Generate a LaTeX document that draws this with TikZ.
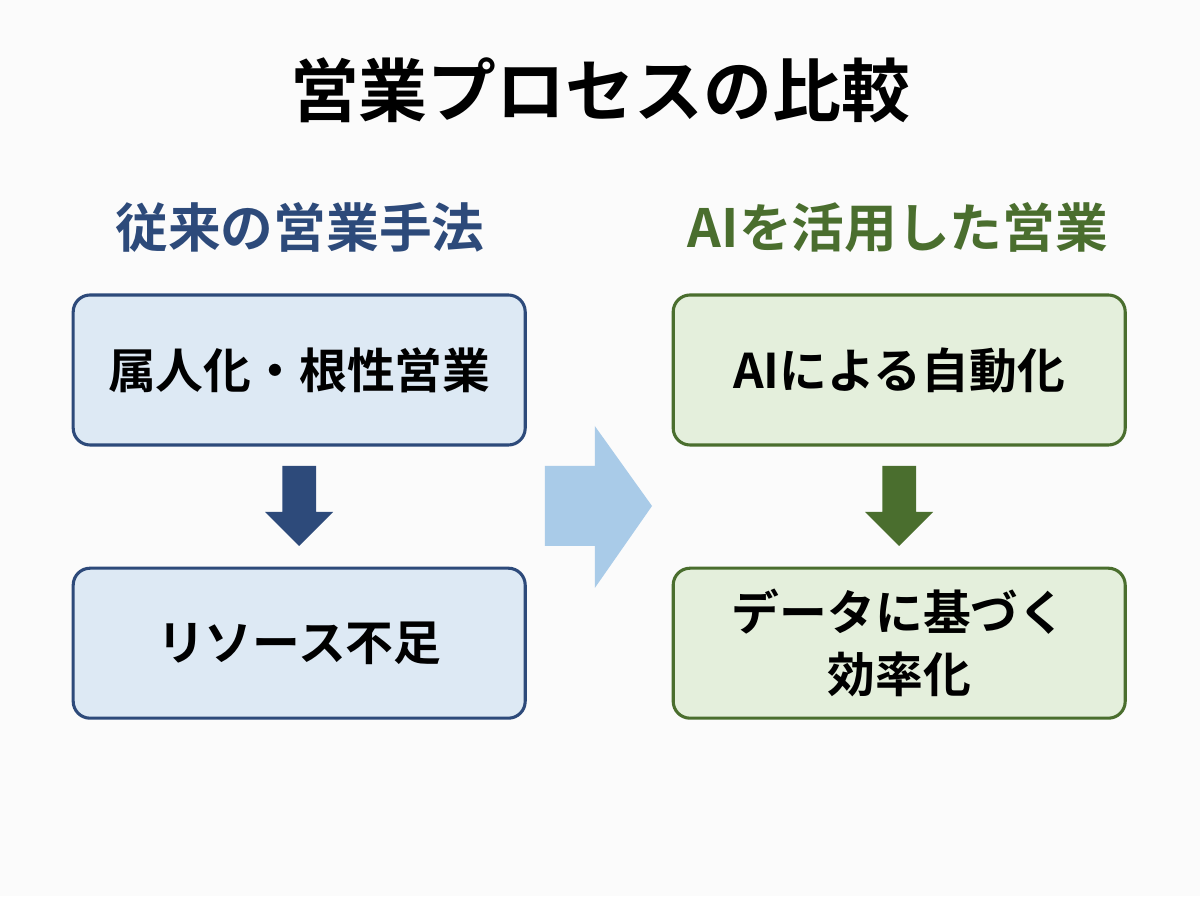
\documentclass[tikz,border=0pt]{standalone}
\usepackage{fontspec}
\newfontfamily\cjk{Noto Sans CJK JP}[BoldFont={Noto Sans CJK JP Bold}]
\usetikzlibrary{positioning}

\definecolor{oldBlue}{HTML}{2D4A7A}
\definecolor{oldFill}{HTML}{DDE9F4}
\definecolor{aiGreen}{HTML}{4A6E2E}
\definecolor{aiFill}{HTML}{E4EFDC}
\definecolor{bigArrow}{HTML}{A9CBE8}

\begin{document}
\begin{tikzpicture}[
    font=\cjk\bfseries,
    step box/.style={draw=#1, line width=2.2pt, rounded corners=12pt,
        minimum width=11.3cm, minimum height=3.75cm, align=center,
        font=\cjk\bfseries\fontsize{34}{44}\selectfont, text=black},
    old box/.style={step box=oldBlue, fill=oldFill},
    ai box/.style={step box=aiGreen, fill=aiFill},
    head/.style={font=\cjk\bfseries\fontsize{37.5}{42}\selectfont}
]
    % background
    \fill[white!97!gray] (0,0) rectangle (30,22.4);
    \useasboundingbox (0,0) rectangle (30,22.4);

    % title
    \node (title) at (15,20.15) {\fontsize{49}{54}\selectfont 営業プロセスの比較};

    % --- left column ---
    \node[head, text=oldBlue] (oldHead) at (7.5,16.7) {従来の営業手法};
    \node[old box] (oldA) at (7.48,13.15) {属人化・根性営業};
    \node[old box] (oldB) at (7.48,6.32) {リソース不足};
    \coordinate (oldArrow) at (7.48,10.75);
    \fill[oldBlue] (oldArrow) ++(-0.42,0) -- ++(0.84,0) -- ++(0,-1.15)
        -- ++(0.43,0) -- ++(-0.85,-0.85) -- ++(-0.85,0.85) -- ++(0.43,0) -- cycle;

    % --- right column ---
    \node[head, text=aiGreen] (aiHead) at (22.45,16.7) {AIを活用した営業};
    \node[ai box] (aiA) at (22.48,13.15) {AIによる自動化};
    \node[ai box] (aiB) at (22.48,6.32) {データに基づく\\効率化};
    \coordinate (aiArrow) at (22.48,10.75);
    \fill[aiGreen] (aiArrow) ++(-0.42,0) -- ++(0.84,0) -- ++(0,-1.15)
        -- ++(0.43,0) -- ++(-0.85,-0.85) -- ++(-0.85,0.85) -- ++(0.43,0) -- cycle;

    % --- middle arrow ---
    \coordinate (midArrow) at (13.62,9.75);
    \fill[bigArrow] (midArrow) ++(0,1) -- ++(1.25,0) -- ++(0,1)
        -- ++(1.43,-2) -- ++(-1.43,-2.05) -- ++(0,1.05) -- ++(-1.25,0) -- cycle;
\end{tikzpicture}
\end{document}
